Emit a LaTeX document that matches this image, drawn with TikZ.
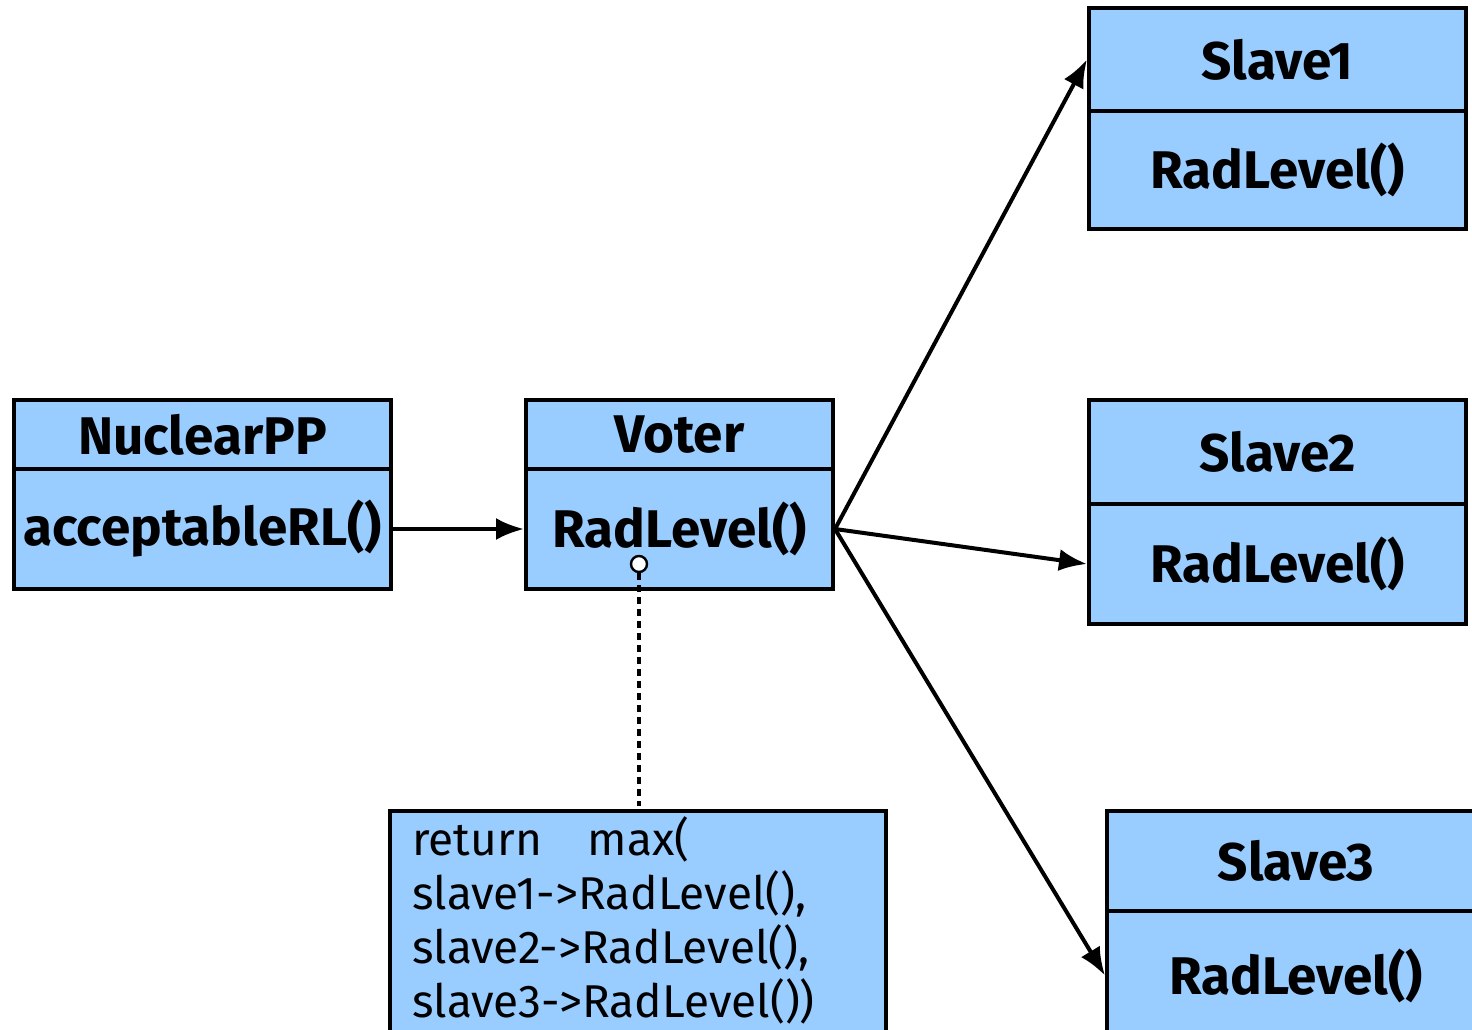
\documentclass[tikz,border=0pt]{standalone}
\usepackage{fontspec}
\setmainfont{Fira Sans}
\usetikzlibrary{arrows.meta}
\definecolor{boxblue}{HTML}{99CCFF}
\begin{document}
\begin{tikzpicture}[x=0.5pt,y=-0.5pt,
  cls/.style={draw=black, line width=2pt, fill=boxblue, inner sep=0pt, font=\fontsize{26.5}{30}\selectfont\bfseries},
  conn/.style={line width=2pt, -{Latex[length=14pt,width=11pt]}},
  note/.style={draw=black, line width=2pt, fill=boxblue}]
\useasboundingbox (0,0) rectangle (1472,1029);
\clip (0,0) rectangle (1472,1029);
% NuclearPP
\node[cls, minimum width=188.5pt, minimum height=34.5pt] (nT) at (202.5,434.5) {NuclearPP};
\node[cls, minimum width=188.5pt, minimum height=60pt] (nB) at (202.5,529) {acceptableRL()};
% Voter
\node[cls, minimum width=153.5pt, minimum height=34.5pt] (vT) at (679.5,434.5) {Voter};
\node[cls, minimum width=153.5pt, minimum height=60pt] (vB) at (679.5,529) {RadLevel()};
% Slave1
\node[cls, minimum width=188.5pt, minimum height=51.5pt] (s1T) at (1277.5,59.5) {Slave1};
\node[cls, minimum width=188.5pt, minimum height=59pt] (s1B) at (1277.5,170) {RadLevel()};
% Slave2
\node[cls, minimum width=188.5pt, minimum height=52pt] (s2T) at (1277.5,452) {Slave2};
\node[cls, minimum width=188.5pt, minimum height=60pt] (s2B) at (1277.5,564) {RadLevel()};
% Slave3
\node[cls, minimum width=189pt, minimum height=50pt] (s3T) at (1296,861) {Slave3};
\node[cls, minimum width=189pt, minimum height=64.5pt] (s3B) at (1296,975.5) {RadLevel()};
% note
\node[note, minimum width=248pt, minimum height=117pt] (nt) at (638,928) {};
\node[anchor=north west, align=left, inner sep=0pt, font=\fontsize{23}{27}\selectfont] (ntx) at (412,816)
 {return\quad max(\\slave1->RadLevel(),\\slave2->RadLevel(),\\slave3->RadLevel())};
% connectors
\draw[conn] (nB.east) -- (vB.west);
\draw[conn] (vB.east) -- (s1T.west);
\draw[conn] (vB.east) -- (s2B.west);
\draw[conn] (vB.east) -- (s3B.west);
\node[circle, draw=black, fill=white, line width=1.2pt, minimum size=8pt, inner sep=0pt] (c) at (639,564) {};
\coordinate (ntop) at (639,806);
\draw[line width=2pt, dash pattern=on 3.5pt off 2.5pt] (c.south) -- (ntop);
\end{tikzpicture}
\end{document}
